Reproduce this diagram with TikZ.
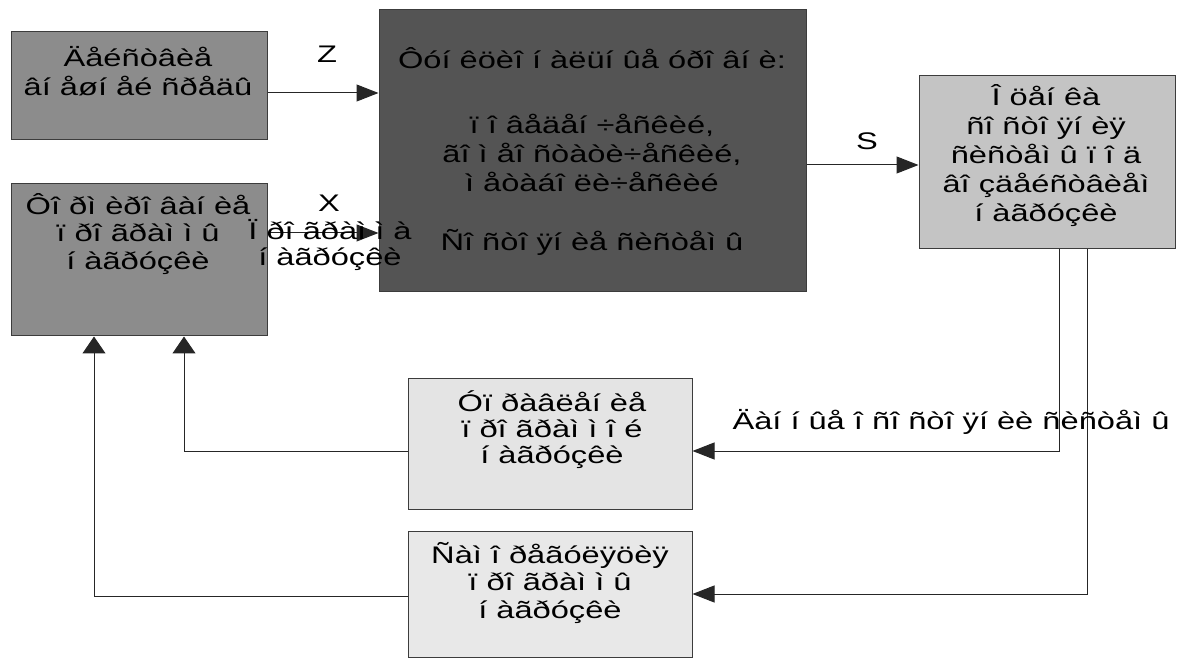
\documentclass[tikz,border=0pt]{standalone}
\usepackage{fontspec}
\setmainfont{Liberation Sans}[FakeStretch=1.36]
\usetikzlibrary{arrows.meta}
% the narrow i-like glyphs are followed by a gap, as in the reference
\XeTeXinterchartokenstate=1
\newXeTeXintercharclass\narrowcls
\XeTeXcharclass"00ED=\narrowcls
\XeTeXcharclass"00EC=\narrowcls
\XeTeXcharclass"00EE=\narrowcls
\XeTeXcharclass"00EF=\narrowcls
\XeTeXcharclass"00CE=\narrowcls
\XeTeXcharclass"00CF=\narrowcls
\XeTeXinterchartoks\narrowcls 0 = {\kern9pt}
\XeTeXinterchartoks\narrowcls\narrowcls = {\kern9pt}
\definecolor{fillAB}{RGB}{140,140,140}
\definecolor{fillC}{RGB}{84,84,84}
\definecolor{fillD}{RGB}{196,196,196}
\definecolor{fillE}{RGB}{228,228,228}
\definecolor{fillF}{RGB}{232,232,232}
\definecolor{edge}{RGB}{60,60,60}
\tikzset{
  blk/.style={draw=edge, line width=1pt, inner sep=0pt},
  txt/.style={align=center, inner sep=0pt, font=\fontsize{24}{29}\selectfont},
  lbl/.style={inner sep=0pt, font=\fontsize{24}{26}\selectfont, align=center},
  conn/.style={draw=black!85, line width=1pt, -{Triangle[length=22pt,width=17pt]}},
  upconn/.style={draw=black!85, line width=1pt, -{Triangle[length=17pt,width=23pt]}},
}
\begin{document}
\begin{tikzpicture}[x=1pt,y=-1pt]
\useasboundingbox (0,0) rectangle (1184,660);
% boxes
\node[blk, fill=fillAB, minimum width=256pt, minimum height=108pt] (a) at (139,86) {};
\node[blk, fill=fillAB, minimum width=256pt, minimum height=152pt] (b) at (139,260) {};
\node[blk, fill=fillC, minimum width=427pt, minimum height=282pt] (c) at (592.5,151) {};
\node[blk, fill=fillD, minimum width=256pt, minimum height=173pt] (d) at (1047,162.5) {};
\node[blk, fill=fillE, minimum width=284pt, minimum height=130pt] (e) at (550,444) {};
\node[blk, fill=fillF, minimum width=284pt, minimum height=126pt] (f) at (550,594) {};
% texts
\node[txt] (ta) at (138,71) {Äåéñòâèå\\âíåøíåé ñðåäû};
\node[txt, font=\fontsize{24}{27.5}\selectfont] (tb) at (138,234) {Ôîðìèðîâàíèå\\ïðîãðàììû\\íàãðóçêè};
\node[txt] (tc) at (592,152) {Ôóíêöèîíàëüíûå óðîâíè:\\[36pt]ïîâåäåí÷åñêèé,\\ãîìåîñòàòè÷åñêèé,\\ìåòàáîëè÷åñêèé\\[30pt]Ñîñòîÿíèå ñèñòåìû};
\node[txt] (td) at (1046,156) {Îöåíêà\\ñîñòîÿíèÿ\\ñèñòåìû ïîä\\âîçäåéñòâèåì\\íàãðóçêè};
\node[txt, font=\fontsize{24}{26}\selectfont] (te) at (552,430) {Óïðàâëåíèå\\ïðîãðàììîé\\íàãðóçêè};
\node[txt, font=\fontsize{24}{27.5}\selectfont] (tf) at (550,583) {Ñàìîðåãóëÿöèÿ\\ïðîãðàììû\\íàãðóçêè};
% connectors
\draw[conn] (a.east |- 0,93) -- (c.west |- 0,93);
\draw[conn] (b.east |- 0,233) -- (c.west |- 0,233);
\draw[conn] (c.east |- 0,165) -- (d.west |- 0,165);
\draw[conn] (d.south -| 1059,0) |- (e.east |- 0,451);
\draw[conn] (d.south -| 1087,0) |- (f.east |- 0,594);
\draw[upconn] (e.west |- 0,451) -| (b.south -| 184,0);
\draw[upconn] (f.west |- 0,596) -| (b.south -| 94,0);
% labels
\node[lbl, anchor=base] (lz) at (327,63) {Z};
\node[lbl, anchor=base] (lx) at (329,212) {X};
\node[lbl] (lp) at (330,245) {Ïðîãðàììà\\íàãðóçêè};
\node[lbl, anchor=base] (ls) at (867,150) {S};
\node[lbl, anchor=base] (ld) at (951,429) {Äàííûå î ñîñòîÿíèè ñèñòåìû};
\end{tikzpicture}
\end{document}
